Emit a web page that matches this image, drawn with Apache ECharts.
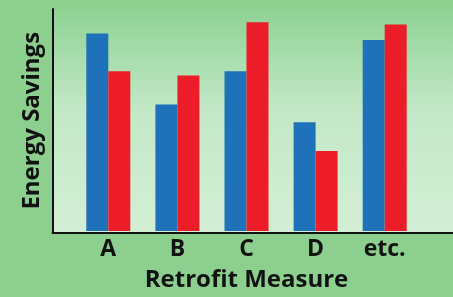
<!DOCTYPE html>
<html>
<head>
<meta charset="utf-8">
<script src="https://cdn.jsdelivr.net/npm/echarts@6/dist/echarts.min.js"></script>
<style>
  html, body { margin: 0; padding: 0; background: #8ccf8f; }
  #chart { width: 453px; height: 297px; }
</style>
</head>
<body>
<div id="chart"></div>
<script>
var categories = ['A', 'B', 'C', 'D', 'etc.']
var blueValues = [89, 57, 72, 49, 86]
var redValues = [72, 70, 94, 36, 93]

var font = '"Open Sans", "Noto Sans", sans-serif'
var ink = '#121212'

var chart = echarts.init(document.getElementById('chart'))

var option = {
  backgroundColor: '#8ccf8f',
  animation: false,
  grid: [
    {
      // frame with the gradient and the two axis lines
      left: 52.5,
      right: 0,
      top: 9,
      bottom: 64.5,
      show: true,
      borderWidth: 0,
      backgroundColor: new echarts.graphic.LinearGradient(0, 0, 0, 1, [
        { offset: 0, color: '#8fd294' },
        { offset: 0.45, color: '#c3e8c7' },
        { offset: 1, color: '#d3efd5' }
      ])
    },
    {
      // bars
      left: 73.75,
      width: 345.5,
      top: 9,
      bottom: 64.5
    }
  ],
  xAxis: [
    {
      gridIndex: 0,
      type: 'value',
      min: 0,
      max: 1,
      axisLine: { show: true, lineStyle: { color: ink, width: 2 } },
      axisTick: { show: false },
      axisLabel: { show: false },
      splitLine: { show: false }
    },
    {
      gridIndex: 1,
      type: 'category',
      data: categories,
      axisLine: { show: false },
      axisTick: { show: false },
      axisLabel: {
        margin: 7,
        color: ink,
        fontSize: 23,
        fontWeight: 'bold',
        fontFamily: font
      },
      name: 'Retrofit Measure',
      nameLocation: 'middle',
      nameGap: 37,
      nameTextStyle: {
        color: ink,
        fontSize: 24,
        fontWeight: 'bold',
        fontFamily: font
      }
    }
  ],
  yAxis: [
    {
      gridIndex: 0,
      type: 'value',
      min: 0,
      max: 100,
      axisLine: { show: true, lineStyle: { color: ink, width: 2 } },
      axisTick: { show: false },
      axisLabel: { show: false },
      splitLine: { show: false },
      name: 'Energy Savings',
      nameLocation: 'middle',
      nameGap: 8,
      nameTextStyle: {
        color: ink,
        fontSize: 24,
        fontWeight: 'bold',
        fontFamily: font
      }
    },
    {
      gridIndex: 1,
      type: 'value',
      min: 0,
      max: 100,
      show: false
    }
  ],
  series: [
    {
      type: 'bar',
      xAxisIndex: 1,
      yAxisIndex: 1,
      data: blueValues,
      barWidth: 22,
      barGap: '0%',
      itemStyle: { color: '#1f72ba' }
    },
    {
      type: 'bar',
      xAxisIndex: 1,
      yAxisIndex: 1,
      data: redValues,
      barWidth: 22,
      barGap: '0%',
      itemStyle: { color: '#ec1c28' }
    }
  ]
}

chart.setOption(option)
</script>
</body>
</html>
